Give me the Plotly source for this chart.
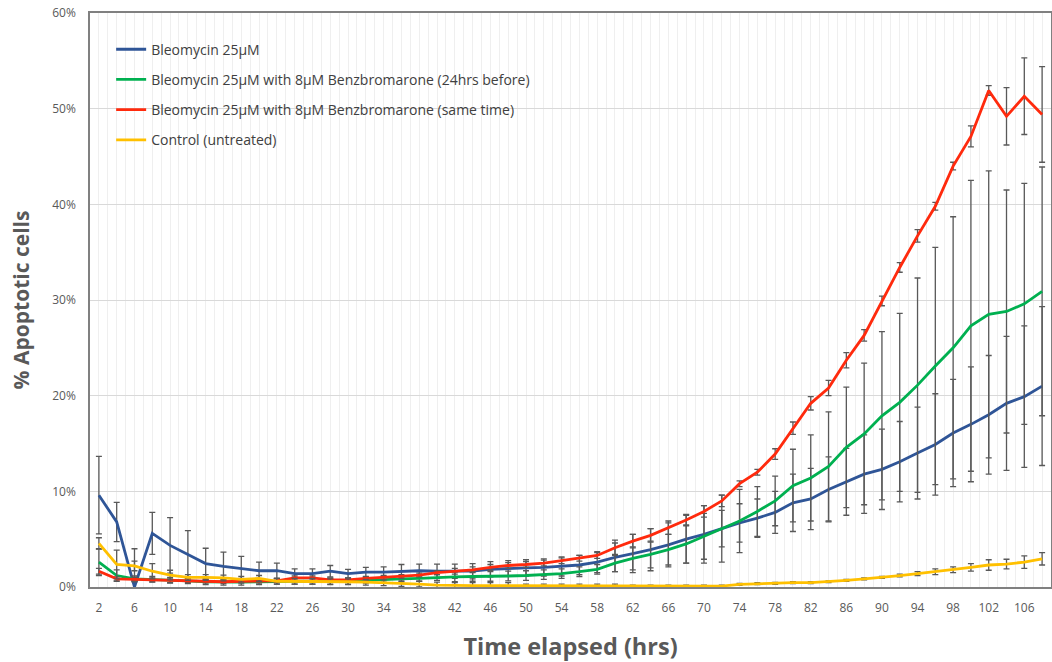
import plotly.graph_objects as go

hours = list(range(2, 110, 2))

bleo = [9.6, 6.8, 0.0, 5.6, 4.35, 3.4, 2.45, 2.15, 1.9, 1.7, 1.7, 1.4, 1.4, 1.65, 1.4, 1.55, 1.55, 1.65, 1.7,
        1.65, 1.65, 1.65, 1.85, 1.95, 2.0, 2.05, 2.15, 2.3, 2.6, 3.1, 3.5, 3.9, 4.4, 5.0, 5.5, 6.1, 6.7, 7.2,
        7.8, 8.8, 9.2, 10.2, 11.0, 11.8, 12.3, 13.1, 14.0, 14.9, 16.1, 17.0, 18.0, 19.2, 19.9, 21.0]
bleo_err = [4.05, 2.05, 4.0, 2.2, 2.9, 2.5, 1.6, 1.5, 1.3, 0.9, 0.8, 0.5, 0.5, 0.6, 0.45, 0.5, 0.55, 0.7, 0.7,
            0.75, 0.75, 0.8, 0.8, 0.8, 0.85, 0.9, 1.0, 1.0, 1.1, 1.5, 2.0, 2.2, 2.3, 2.5, 3.0, 3.5, 2.0, 2.0,
            2.2, 3.0, 3.2, 3.4, 3.5, 4.1, 4.2, 4.2, 4.8, 5.3, 5.6, 6.0, 6.2, 7.0, 7.4, 8.3]

bleo_benz_24 = [2.6, 1.2, 0.85, 0.8, 0.7, 0.65, 0.55, 0.5, 0.5, 0.55, 0.6, 0.6, 0.6, 0.6, 0.6, 0.7, 0.8, 0.85, 0.9,
                1.0, 1.05, 1.1, 1.1, 1.15, 1.2, 1.3, 1.4, 1.6, 1.85, 2.5, 3.0, 3.4, 3.9, 4.5, 5.3, 6.1, 6.9, 7.9,
                9.0, 10.6, 11.4, 12.6, 14.6, 16.0, 17.9, 19.3, 21.1, 23.1, 25.0, 27.3, 28.5, 28.8, 29.6, 30.9]
bleo_benz_24_err = [1.4, 0.6, 0.3, 0.3, 0.3, 0.3, 0.3, 0.3, 0.3, 0.3, 0.3, 0.3, 0.3, 0.3, 0.3, 0.3, 0.3, 0.3, 0.3,
                    0.3, 0.5, 0.5, 0.5, 0.5, 0.5, 0.5, 0.5, 0.5, 0.5, 0.9, 1.2, 1.4, 1.6, 2.0, 2.4, 1.9, 3.3, 2.6,
                    2.6, 3.8, 4.5, 5.7, 6.3, 7.4, 8.8, 9.3, 11.2, 12.4, 13.7, 15.2, 15.0, 12.7, 12.6, 13.0]

bleo_benz_same = [1.65, 0.85, 0.8, 0.75, 0.65, 0.65, 0.6, 0.55, 0.6, 0.6, 0.65, 0.95, 0.95, 0.75, 0.75, 0.9, 1.0,
                  1.1, 1.25, 1.5, 1.65, 1.8, 2.05, 2.25, 2.35, 2.5, 2.75, 3.0, 3.3, 4.1, 4.8, 5.4, 6.2, 7.0, 7.9,
                  9.0, 10.8, 12.0, 13.9, 16.6, 19.2, 20.8, 23.7, 26.3, 29.9, 33.4, 36.7, 39.8, 44.0, 47.1, 51.9,
                  49.2, 51.3, 49.4]
bleo_benz_same_err = [0.3, 0.2, 0.2, 0.2, 0.2, 0.2, 0.2, 0.2, 0.2, 0.2, 0.2, 0.2, 0.2, 0.2, 0.2, 0.2, 0.2, 0.2,
                      0.2, 0.2, 0.3, 0.3, 0.3, 0.3, 0.3, 0.3, 0.3, 0.3, 0.3, 0.8, 0.7, 0.7, 0.7, 0.6, 0.6, 0.6,
                      0.3, 0.3, 0.55, 0.65, 0.7, 0.8, 0.8, 0.6, 0.5, 0.5, 0.65, 0.4, 0.4, 1.1, 0.5, 3.0, 4.0, 5.0]

control = [4.55, 2.35, 2.2, 1.65, 1.25, 1.0, 1.0, 0.95, 0.8, 0.9, 0.6, 0.6, 0.6, 0.55, 0.55, 0.5, 0.45, 0.35,
           0.3, 0.2, 0.15, 0.15, 0.15, 0.15, 0.1, 0.1, 0.1, 0.1, 0.1, 0.1, 0.1, 0.1, 0.1, 0.1, 0.1, 0.1, 0.28,
           0.35, 0.38, 0.45, 0.45, 0.55, 0.7, 0.85, 1.0, 1.2, 1.4, 1.6, 1.8, 2.05, 2.3, 2.4, 2.6, 2.95]
control_err = [0.6, 1.5, 0.5, 0.8, 0.5, 0.3, 0.3, 0.3, 0.3, 0.3, 0.3, 0.3, 0.3, 0.3, 0.3, 0.3, 0.3, 0.3, 0.3,
               0.3, 0.3, 0.3, 0.3, 0.3, 0.2, 0.2, 0.2, 0.2, 0.2, 0.2, 0.1, 0.1, 0.1, 0.1, 0.1, 0.1, 0.1, 0.1,
               0.1, 0.1, 0.1, 0.1, 0.1, 0.1, 0.1, 0.15, 0.2, 0.3, 0.3, 0.4, 0.55, 0.5, 0.65, 0.65]

series = [
    ("Bleomycin 25µM", bleo, bleo_err, "#2F5597"),
    ("Bleomycin 25µM with 8µM Benzbromarone (24hrs before)", bleo_benz_24, bleo_benz_24_err, "#00B050"),
    ("Bleomycin 25µM with 8µM Benzbromarone (same time)", bleo_benz_same, bleo_benz_same_err, "#FF2A0D"),
    ("Control (untreated)", control, control_err, "#FFC000"),
]

tick_labels = list(range(2, 108, 4))

fig = go.Figure()
for i, (name, vals, err, col) in enumerate(series):
    fig.add_trace(go.Scatter(
        x=hours, y=vals, name=name, mode="lines",
        line=dict(color=col, width=2.8),
        legendgroup=f"g{i}",
        error_y=dict(type="data", array=err, visible=True, color="#595959", thickness=1.3, width=3),
    ))

font_family = "Open Sans, Segoe UI, DejaVu Sans, sans-serif"
fig.update_layout(
    width=1052, height=662,
    margin=dict(l=90, r=1, t=13, b=75),
    paper_bgcolor="white", plot_bgcolor="white",
    font=dict(family=font_family, color="#595959", size=12),
    showlegend=True,
    legend=dict(x=0.022, y=0.964, xanchor="left", yanchor="top", bgcolor="rgba(0,0,0,0)",
                font=dict(size=14, color="#404040"), tracegroupgap=9, traceorder="grouped",
                itemwidth=30),
    xaxis=dict(
        range=[1, 109], tickmode="array", tickvals=tick_labels, ticktext=[str(t) for t in tick_labels],
        showgrid=True, gridcolor="#EFEFEF", gridwidth=1,
        minor=dict(tickmode="linear", tick0=1, dtick=1, showgrid=True, gridcolor="#EFEFEF", gridwidth=1),
        showline=True, linecolor="#808080", linewidth=1.5, mirror=True,
        ticks="", tickfont=dict(size=12, color="#595959"), ticklabelstandoff=9,
        title=dict(text="<b>Time elapsed (hrs)</b>", font=dict(size=23.5, color="#595959"), standoff=24),
        zeroline=False, automargin=False,
    ),
    yaxis=dict(
        range=[0, 60], dtick=10, ticksuffix="%",
        showgrid=True, gridcolor="#D9D9D9", gridwidth=1,
        showline=True, linecolor="#808080", linewidth=1.5, mirror=True,
        ticks="", tickfont=dict(size=12, color="#595959"), ticklabelstandoff=10,
        ticklabeloverflow="allow",
        title=dict(text="<b>% Apoptotic cells</b>", font=dict(size=21, color="#595959"), standoff=17),
        zeroline=False, automargin=False,
    ),
)

# remove the page's default 8px body margin so the figure fills the window exactly
fig.write_html("out.html", config={"displayModeBar": False},
               post_script="document.body.style.margin='0';")
